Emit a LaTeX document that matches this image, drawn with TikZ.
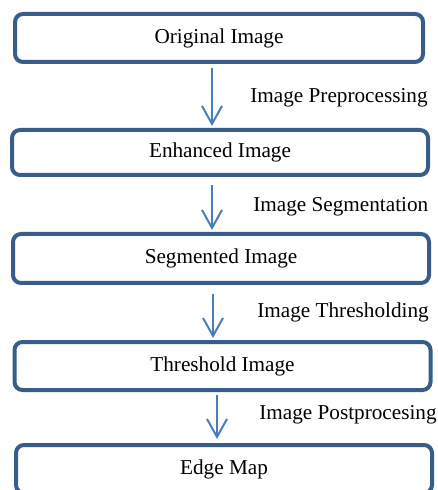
\documentclass[tikz,border=0pt]{standalone}
\usepackage{fontspec}
\setmainfont{Liberation Serif}
\usetikzlibrary{arrows.meta}
\definecolor{boxblue}{RGB}{56,93,138}
\definecolor{arrowblue}{RGB}{74,126,187}

\begin{document}
\begin{tikzpicture}[x=0.5pt, y=-0.5pt,
        stage/.style={draw=boxblue, line width=2pt, rounded corners=4pt,
            minimum width=208pt, minimum height=24pt, inner sep=0pt,
            font=\fontsize{10.6pt}{12pt}\selectfont},
        flow/.style={draw=arrowblue, line width=1pt,
            -{Straight Barb[length=9pt, width=10pt]}},
        steplabel/.style={anchor=base west, inner sep=0pt,
            font=\fontsize{10.6pt}{12pt}\selectfont}]
    \useasboundingbox (0, 0) rectangle (437, 490);
    % Stages
    \node[stage, minimum width=204pt] (orig) at (219, 38) {Original Image};
    \node[stage, minimum height=22.5pt] (enh) at (220, 152.5) {Enhanced Image};
    \node[stage, minimum height=24.5pt] (seg) at (221, 258.5) {Segmented Image};
    \node[stage] (thr) at (222.5, 366) {Threshold Image};
    \node[stage] (edge) at (224, 469) {Edge Map};
    % Arrows between stages
    \draw[flow, shorten <=2pt, shorten >=1pt]
        ([xshift=-3.5pt]orig.south) -- ([xshift=-3.5pt]orig.south |- enh.north);
    \draw[flow, shorten <=4pt, shorten >=1pt]
        ([xshift=-4pt]enh.south) -- ([xshift=-4pt]enh.south |- seg.north);
    \draw[flow, shorten <=4.5pt, shorten >=1pt]
        ([xshift=-4pt]seg.south) -- ([xshift=-4pt]seg.south |- thr.north);
    \draw[flow, shorten <=1.5pt, shorten >=2pt]
        ([xshift=-2.75pt]thr.south) -- ([xshift=-2.75pt]thr.south |- edge.north);
    % Step labels
    \node[steplabel] (prep) at (250, 103) {Image Preprocessing};
    \node[steplabel] (segm) at (253, 212) {Image Segmentation};
    \node[steplabel] (thrs) at (257, 317) {Image Thresholding};
    \node[steplabel] (post) at (259, 419) {Image Postprocesing};
\end{tikzpicture}
\end{document}
